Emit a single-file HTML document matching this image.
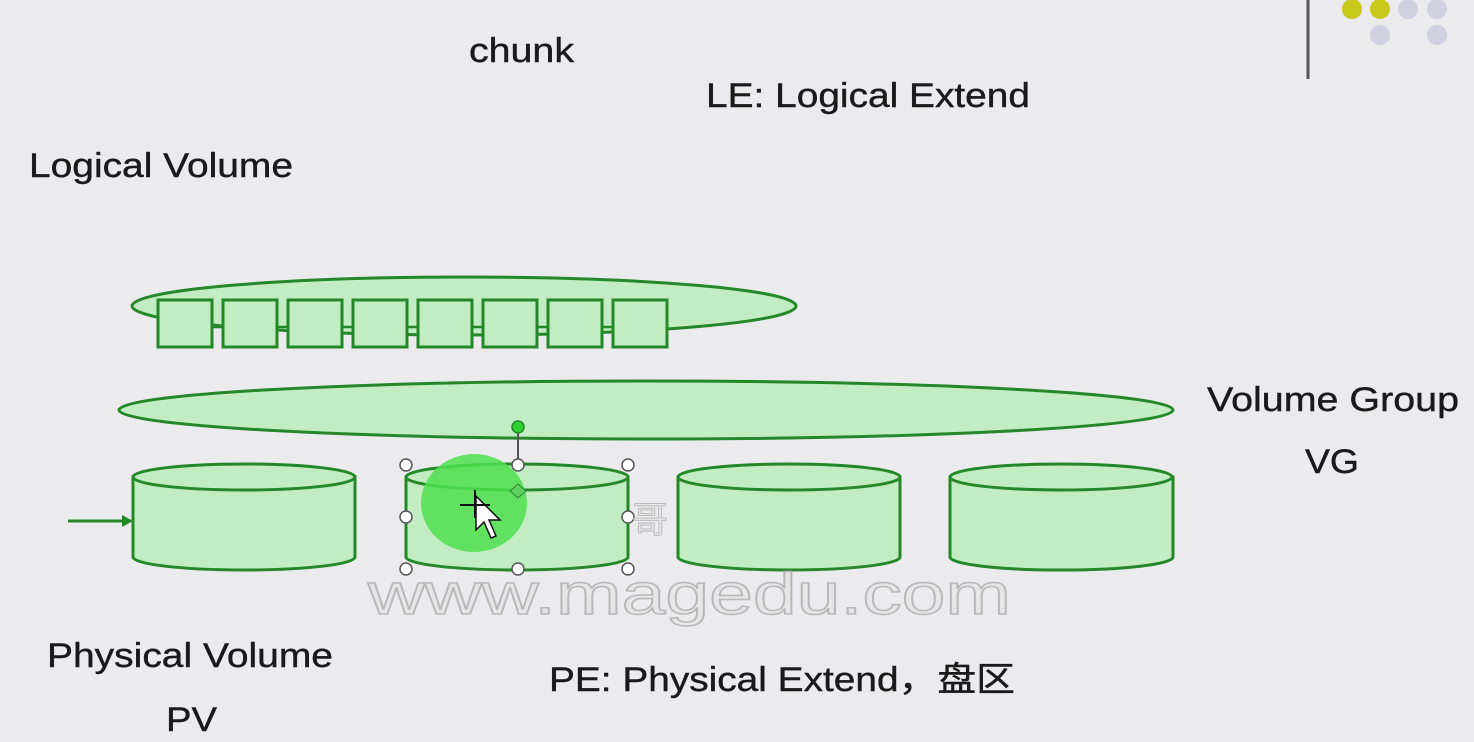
<!DOCTYPE html>
<html><head><meta charset="utf-8"><style>
html,body{margin:0;padding:0;background:#ebeaec;}
svg{display:block;}
text{font-family:"Liberation Sans","Noto Sans CJK SC",sans-serif;font-size:34px;fill:#1a1a1a;stroke:#1a1a1a;stroke-width:0.4;}
</style></head><body>
<svg width="1474" height="742" viewBox="0 0 1474 742" xmlns="http://www.w3.org/2000/svg">
<rect width="1474" height="742" fill="#ebeaec"/>
<line x1="1308" y1="0" x2="1308" y2="79" stroke="#555" stroke-width="3"/>
<circle cx="1352" cy="9" r="10" fill="#c8c81a"/>
<circle cx="1380" cy="9" r="10" fill="#c8c81a"/>
<circle cx="1408" cy="9" r="10" fill="#d0d0e0"/>
<circle cx="1437" cy="9" r="10" fill="#d0d0e0"/>
<circle cx="1380" cy="35" r="10" fill="#d0d0e0"/>
<circle cx="1437" cy="35" r="10" fill="#d0d0e0"/>

<g fill="#c2ecc2" stroke="#24882a" stroke-width="3">
<ellipse cx="464" cy="306" rx="332" ry="29"/>
<line x1="158" y1="327" x2="667" y2="327" stroke-width="2.5"/>
<rect x="158" y="300" width="54" height="47"/>
<rect x="223" y="300" width="54" height="47"/>
<rect x="288" y="300" width="54" height="47"/>
<rect x="353" y="300" width="54" height="47"/>
<rect x="418" y="300" width="54" height="47"/>
<rect x="483" y="300" width="54" height="47"/>
<rect x="548" y="300" width="54" height="47"/>
<rect x="613" y="300" width="54" height="47"/>
<ellipse cx="646" cy="410" rx="527" ry="29"/>
<path d="M133 477 V557 A111 13 0 0 0 355 557 V477 Z"/>
<ellipse cx="244" cy="477" rx="111" ry="13"/>
<path d="M406 477 V557 A111 13 0 0 0 628 557 V477 Z"/>
<ellipse cx="517" cy="477" rx="111" ry="13"/>
<path d="M678 477 V557 A111 13 0 0 0 900 557 V477 Z"/>
<ellipse cx="789" cy="477" rx="111" ry="13"/>
<path d="M950 477 V557 A111 13 0 0 0 1173 557 V477 Z"/>
<ellipse cx="1061" cy="477" rx="111" ry="13"/>
</g>
<line x1="68" y1="521" x2="124" y2="521" stroke="#24882a" stroke-width="3"/>
<polygon points="122,515 133,521 122,527" fill="#24882a"/>

<ellipse cx="474" cy="503" rx="53" ry="49" fill="#4fe04f" opacity="0.85"/>
<line x1="518" y1="428" x2="518" y2="465" stroke="#555" stroke-width="2"/>
<circle cx="518" cy="427" r="6" fill="#2fd02f" stroke="#24882a" stroke-width="1.5"/>
<polygon points="518,484 526,491 518,498 510,491" fill="#5fd05f" stroke="#24882a"/>
<g fill="#fff" stroke="#555" stroke-width="1.5">
<circle cx="406" cy="465" r="6"/><circle cx="518" cy="465" r="6"/><circle cx="628" cy="465" r="6"/>
<circle cx="406" cy="517" r="6"/><circle cx="628" cy="517" r="6"/>
<circle cx="406" cy="569" r="6"/><circle cx="518" cy="569" r="6"/><circle cx="628" cy="569" r="6"/>
</g>
<path d="M476 496 L476 530 L484 522 L491 538 L496 536 L489 520 L500 520 Z" fill="#fff" stroke="#111" stroke-width="1.5"/>
<path d="M460 505 H490 M475 490 V518" stroke="#111" stroke-width="2"/>

<text x="368" y="614" textLength="643" lengthAdjust="spacingAndGlyphs" style="font-size:58px;fill:#e6e6e6;stroke:#b8b8b8;stroke-width:1.5">www.magedu.com</text>
<text x="632" y="532" style="font-size:36px;fill:#e8e8e8;stroke:#bbb;stroke-width:1">哥</text>

<text x="469" y="62" textLength="105" lengthAdjust="spacingAndGlyphs">chunk</text>
<text x="706" y="107" textLength="324" lengthAdjust="spacingAndGlyphs">LE: Logical Extend</text>
<text x="29" y="177" textLength="264" lengthAdjust="spacingAndGlyphs">Logical Volume</text>
<text x="1207" y="411" textLength="252" lengthAdjust="spacingAndGlyphs">Volume Group</text>
<text x="1305" y="473" textLength="54" lengthAdjust="spacingAndGlyphs">VG</text>
<text x="47" y="667" textLength="286" lengthAdjust="spacingAndGlyphs">Physical Volume</text>
<text x="166" y="731" textLength="51" lengthAdjust="spacingAndGlyphs">PV</text>
<text x="549" y="691" textLength="466" lengthAdjust="spacingAndGlyphs">PE: Physical Extend，盘区</text>
</svg>
</body></html>
